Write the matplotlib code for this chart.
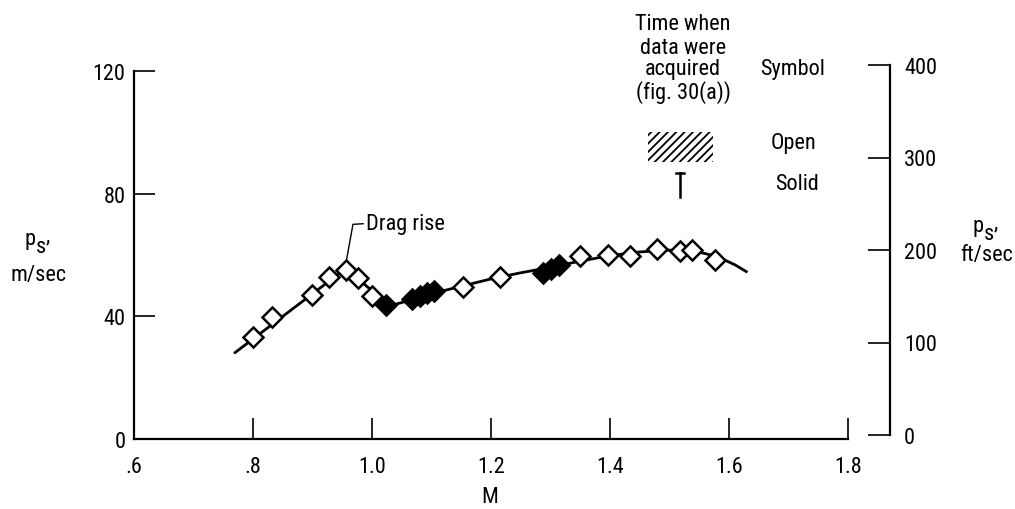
import numpy as np
import matplotlib
matplotlib.use("Agg")
import matplotlib.pyplot as plt
from matplotlib.lines import Line2D
from matplotlib.patches import Rectangle

plt.rcParams["font.family"] = ["Roboto Condensed", "Liberation Sans Narrow", "Liberation Sans", "DejaVu Sans"]
plt.rcParams["hatch.linewidth"] = 1.3

# Mach number and specific excess power, open symbols
mach_open = [0.800, 0.832, 0.899, 0.928, 0.956, 0.976, 1.000,
             1.153, 1.215,
             1.350, 1.397, 1.434, 1.479, 1.518, 1.538, 1.576]
ps_open = [33.4, 39.8, 47.0, 52.8, 55.1, 52.5, 46.6,
           49.6, 52.8,
           59.6, 59.9, 59.6, 61.9, 61.2, 61.5, 58.3]

# solid symbols
mach_solid = [1.024, 1.067, 1.081, 1.092, 1.104, 1.287, 1.300, 1.314]
ps_solid = [43.7, 45.7, 46.6, 47.6, 48.3, 54.1, 55.4, 56.8]

# faired curve
mach_fair = [0.770, 0.956, 1.030, 1.070, 1.100, 1.150, 1.200, 1.250, 1.300,
             1.350, 1.400, 1.450, 1.500, 1.540, 1.580, 1.610, 1.629]
ps_fair = [28.2, 55.6, 43.4, 45.6, 47.4, 49.8, 52.2, 54.2, 56.0,
           58.0, 59.8, 61.0, 61.6, 61.4, 59.5, 56.8, 54.6]

x_ticks = [0.6, 0.8, 1.0, 1.2, 1.4, 1.6, 1.8]
x_ticklabels = [".6", ".8", "1.0", "1.2", "1.4", "1.6", "1.8"]
y_ticks = [0, 40, 80, 120]
y2_ticks = [0, 100, 200, 300, 400]

W, H = 1015, 510
fig = plt.figure(figsize=(W / 100, H / 100), dpi=100)


def fx(px):
    return px / W


def fy(py):
    return 1 - py / H


def ps_label(px, py):
    # p with a lowered s and a comma, as on the original
    fig.text(fx(px), fy(py), "p", fontsize=FS, ha="left", va="baseline")
    fig.text(fx(px + 12), fy(py + 8), "s", fontsize=FS, ha="left", va="baseline")
    fig.text(fx(px + 22), fy(py - 4), ",", fontsize=FS, ha="left", va="baseline")


FS = 16
ax = fig.add_axes([fx(134), fy(440), fx(848) - fx(134), fy(72) - fy(440)])
ax.set_xlim(0.6, 1.8)
ax.set_ylim(0, 120)
for s in ["top", "right"]:
    ax.spines[s].set_visible(False)
for s in ["left", "bottom"]:
    ax.spines[s].set_linewidth(1.6)
ax.set_xticks(x_ticks)
ax.set_xticklabels(x_ticklabels)
ax.set_yticks(y_ticks)
ax.tick_params(direction="in", length=15, width=1.2, labelsize=FS, pad=6)
ax.tick_params(axis="x", pad=12)

ax.plot(mach_fair, ps_fair, color="black", lw=2.0, zorder=2)
ax.plot(mach_open, ps_open, ls="none", marker="D", ms=10, mfc="white",
        mec="black", mew=1.8, zorder=3)
ax.plot(mach_solid, ps_solid, ls="none", marker="D", ms=10, mfc="black",
        mec="black", mew=1.8, zorder=3)

# drag rise leader
ax.plot([0.957, 0.968, 0.985], [58.2, 70.0, 70.2], color="black", lw=1.0)
ax.text(0.990, 70.2, "Drag rise", fontsize=FS, va="center", ha="left")

fig.text(fx(490), fy(498), "M", fontsize=FS, ha="center", va="center")
ps_label(24, 245)
fig.text(fx(38), fy(276), "m/sec", fontsize=FS, ha="center", va="center")

# right hand axis in ft/sec
ax2 = fig.add_axes([fx(880), fy(436), fx(890) - fx(880), fy(66) - fy(436)])
ax2.patch.set_visible(False)
ax2.set_ylim(0, 400)
ax2.set_xticks([])
for s in ["top", "left", "bottom"]:
    ax2.spines[s].set_visible(False)
ax2.spines["right"].set_linewidth(1.6)
ax2.yaxis.tick_right()
ax2.set_yticks(y2_ticks)
ax2.tick_params(direction="in", length=16, width=1.2, labelsize=FS, pad=10)

ps_label(972, 232)
fig.text(fx(987), fy(255), "ft/sec", fontsize=FS, ha="center", va="center")

# key
for py, s in zip([25, 49, 70, 93], ["Time when", "data were", "acquired", "(fig. 30(a))"]):
    fig.text(fx(683), fy(py), s, fontsize=FS, ha="center", va="center")
fig.text(fx(793), fy(70), "Symbol", fontsize=FS, ha="center", va="center")
fig.text(fx(794), fy(143), "Open", fontsize=FS, ha="center", va="center")
fig.text(fx(797), fy(185), "Solid", fontsize=FS, ha="center", va="center")

fig.patches.append(Rectangle((fx(648), fy(163)), fx(713) - fx(648), fy(133) - fy(163),
                             transform=fig.transFigure, fill=False, hatch="////",
                             lw=0, edgecolor="black"))
fig.lines.append(Line2D([fx(680), fx(680)], [fy(174), fy(198)],
                        transform=fig.transFigure, color="black", lw=1.8))
fig.lines.append(Line2D([fx(676), fx(684)], [fy(174), fy(174)],
                        transform=fig.transFigure, color="black", lw=1.8))

fig.savefig("out.png", dpi=100)
